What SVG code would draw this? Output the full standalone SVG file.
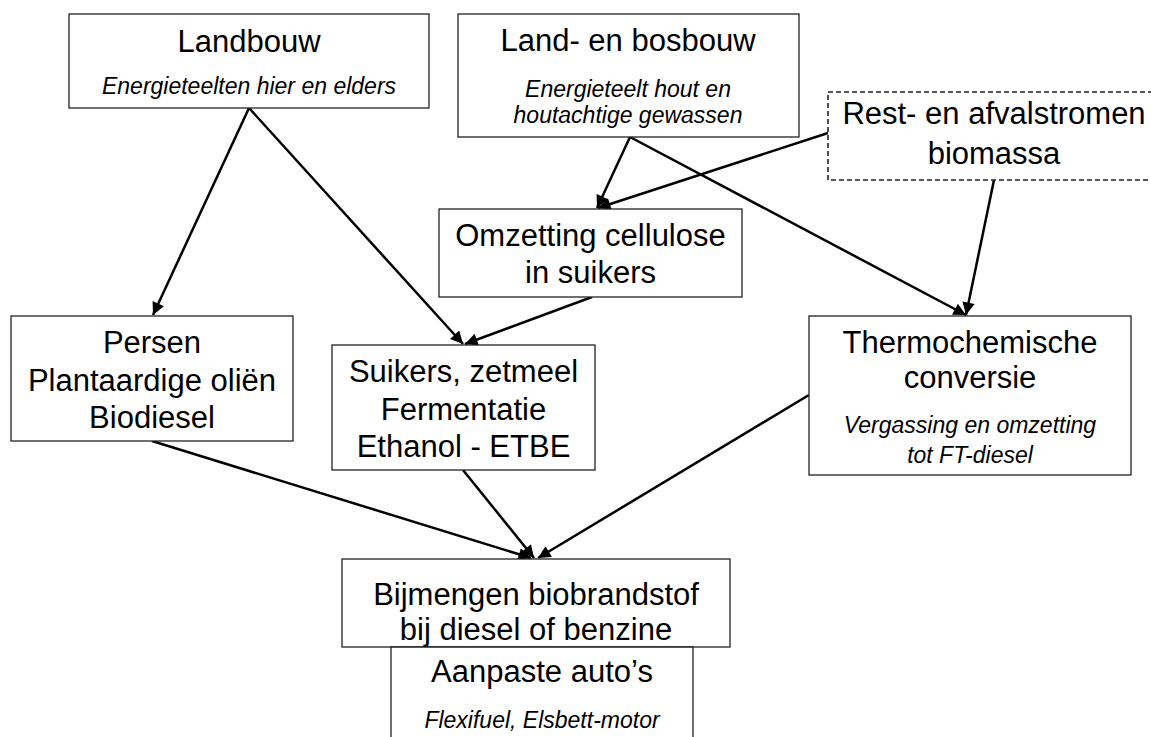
<svg xmlns="http://www.w3.org/2000/svg" width="1151" height="737" viewBox="0 0 1151 737">
<style>
.box{fill:#fff;stroke:#222;stroke-width:1.3}
.dash{fill:#fff;stroke:#222;stroke-width:1.6;stroke-dasharray:5,3}
.t{font-family:"Liberation Sans",Arial,sans-serif;font-size:31px;fill:#000;text-anchor:middle}
.s{font-family:"Liberation Sans",Arial,sans-serif;font-size:23px;font-style:italic;fill:#000;text-anchor:middle}
.c{stroke:#000;stroke-width:2.5;fill:none;marker-end:url(#ah)}
</style>
<defs>
<marker id="ah" viewBox="0 0 10 10" refX="10" refY="5" markerWidth="5.5" markerHeight="5" orient="auto" markerUnits="strokeWidth">
<path d="M0,0 L10,5 L0,10 z" fill="#000"/>
</marker>
</defs>
<rect width="1151" height="737" fill="#fff"/>
<g id="connectors">
<line class="c" x1="249" y1="108" x2="153" y2="315"/>
<line class="c" x1="249" y1="108" x2="463" y2="344"/>
<line class="c" x1="630" y1="137" x2="597" y2="208"/>
<line class="c" x1="630" y1="137" x2="966" y2="315"/>
<line class="c" x1="828" y1="133" x2="598" y2="208"/>
<line class="c" x1="994" y1="180" x2="966" y2="315"/>
<line class="c" x1="592" y1="297" x2="465" y2="344"/>
<line class="c" x1="152" y1="441" x2="531" y2="558"/>
<line class="c" x1="463" y1="470" x2="534" y2="558"/>
<line class="c" x1="809" y1="395" x2="538" y2="558"/>
</g>
<g id="landbouw">
<rect class="box" x="69" y="14" width="360" height="94"/>
<text class="t" x="249" y="52">Landbouw</text>
<text class="s" x="249" y="94">Energieteelten hier en elders</text>
</g>
<g id="land-en-bosbouw">
<rect class="box" x="458" y="14" width="341" height="123"/>
<text class="t" x="628" y="51">Land- en bosbouw</text>
<text class="s" x="628" y="97">Energieteelt hout en</text>
<text class="s" x="628" y="123">houtachtige gewassen</text>
</g>
<g id="rest">
<rect class="dash" x="828" y="92" width="340" height="88"/>
<text class="t" x="994" y="124">Rest- en afvalstromen</text>
<text class="t" x="994" y="164">biomassa</text>
</g>
<g id="omzetting">
<rect class="box" x="439" y="209" width="303" height="88"/>
<text class="t" x="590.5" y="246">Omzetting cellulose</text>
<text class="t" x="590.5" y="283">in suikers</text>
</g>
<g id="persen">
<rect class="box" x="11" y="316" width="282" height="125"/>
<text class="t" x="152" y="353">Persen</text>
<text class="t" x="152" y="391">Plantaardige oliën</text>
<text class="t" x="152" y="428">Biodiesel</text>
</g>
<g id="suikers">
<rect class="box" x="332" y="345" width="263" height="125"/>
<text class="t" x="463.5" y="382">Suikers, zetmeel</text>
<text class="t" x="463.5" y="420">Fermentatie</text>
<text class="t" x="463.5" y="457">Ethanol - ETBE</text>
</g>
<g id="thermo">
<rect class="box" x="809" y="316" width="322" height="159"/>
<text class="t" x="970" y="353">Thermochemische</text>
<text class="t" x="970" y="388">conversie</text>
<text class="s" x="970" y="433">Vergassing en omzetting</text>
<text class="s" x="970" y="463">tot FT-diesel</text>
</g>
<g id="bijmengen">
<rect class="box" x="342" y="559" width="388" height="88"/>
<text class="t" x="536" y="605">Bijmengen biobrandstof</text>
<text class="t" x="536" y="640">bij diesel of benzine</text>
</g>
<g id="aanpaste">
<path class="box" d="M391,737 V647 H693 V737"/>
<text class="t" x="542" y="682">Aanpaste auto’s</text>
<text class="s" x="542" y="728">Flexifuel, Elsbett-motor</text>
</g>
</svg>
